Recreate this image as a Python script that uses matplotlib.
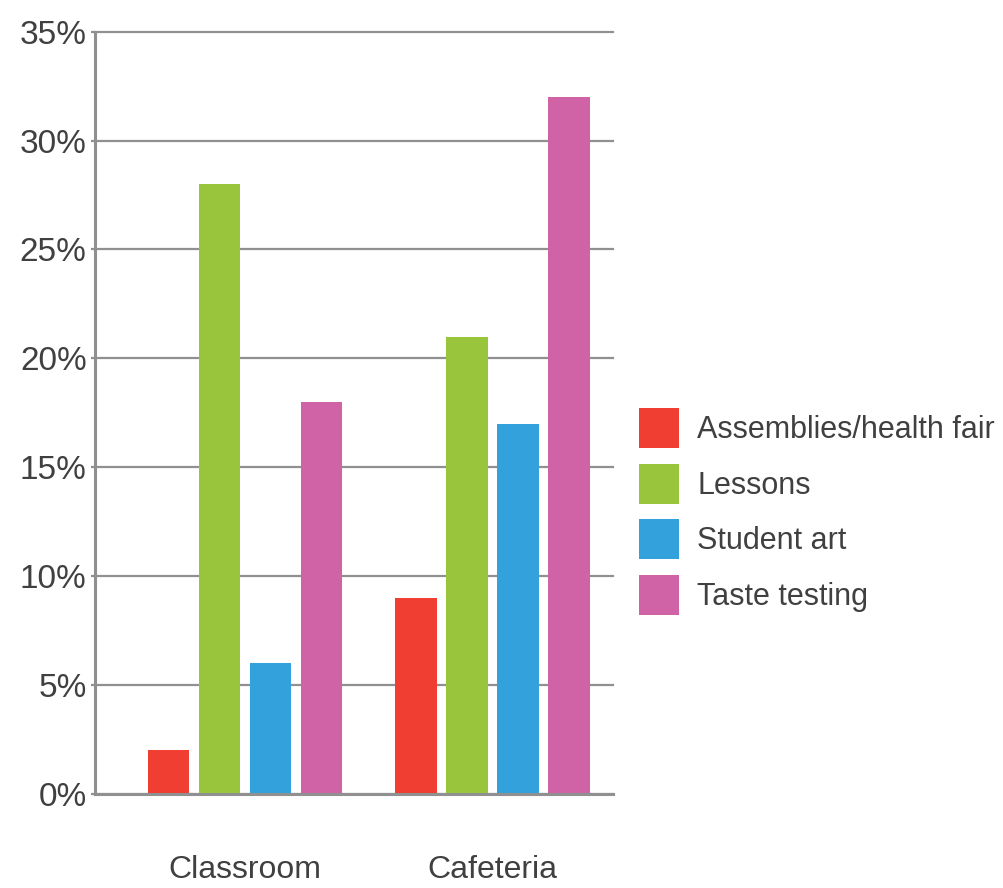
import matplotlib.pyplot as plt
import numpy as np
from matplotlib.patches import Patch
from matplotlib.ticker import PercentFormatter

plt.rcParams["font.family"] = ["Liberation Sans", "DejaVu Sans"]

categories = ["Classroom", "Cafeteria"]
series_names = ["Assemblies/health fair", "Lessons", "Student art", "Taste testing"]
assemblies = [2, 9]
lessons = [28, 21]
student_art = [6, 17]
taste_testing = [18, 32]
colors = ["#F03E32", "#99C53C", "#33A2DC", "#D063A6"]

values = [assemblies, lessons, student_art, taste_testing]
text_color = "#404040"
grid_color = "#909090"

fig = plt.figure(figsize=(10.04, 8.88), dpi=100)
ax = fig.add_axes([0.0946, 0.1059, 0.516, 0.8584])

x = np.arange(len(categories))
width = 0.166
pitch = 0.206
offsets = (np.arange(len(series_names)) - 1.5) * pitch
for vals, off, col in zip(values, offsets, colors):
    ax.bar(x + off, vals, width=width, color=col, zorder=3)

ax.set_ylim(0, 35)
ax.set_xlim(-0.606, 1.487)
ax.set_yticks(np.arange(0, 36, 5))
ax.yaxis.set_major_formatter(PercentFormatter(decimals=0))
ax.set_xticks(x)
ax.set_xticklabels(categories)

ax.grid(axis="y", color=grid_color, linewidth=1.6, zorder=1)
for gl in ax.get_ygridlines():
    gl.set_clip_on(False)
for side in ["top", "right"]:
    ax.spines[side].set_visible(False)
for side in ["left", "bottom"]:
    ax.spines[side].set_color(grid_color)
    ax.spines[side].set_linewidth(2.2)
    ax.spines[side].set_zorder(4)

ax.tick_params(axis="y", length=3, width=1.6, color=grid_color, pad=3,
               labelsize=24, labelcolor=text_color)
ax.tick_params(axis="x", length=0, pad=44, labelsize=23, labelcolor=text_color)

handles = [Patch(facecolor=c, edgecolor="none") for c in colors]
fig.legend(handles, series_names, loc="center left", bbox_to_anchor=(0.6365, 0.424),
           frameon=False, fontsize=22, labelcolor=text_color,
           handlelength=1.31, handleheight=1.634, handletextpad=0.59,
           labelspacing=0.51, borderaxespad=0, borderpad=0)

fig.savefig("out.png", dpi=100, facecolor="white")
